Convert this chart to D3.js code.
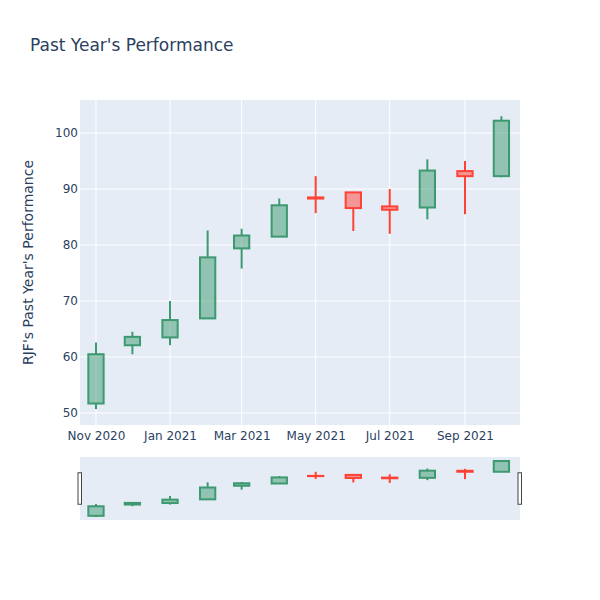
<!DOCTYPE html>
<html>
<head>
<meta charset="utf-8">
<script src="https://cdn.jsdelivr.net/npm/d3@7"></script>
<style>
  html, body { margin: 0; padding: 0; background: #fff; }
  svg { display: block; font-family: "DejaVu Sans", Verdana, Arial, sans-serif; }
</style>
</head>
<body>
<svg id="chart" width="600" height="600"></svg>
<script>
// ---- Data ----
const dates = ["2020-11-01","2020-12-01","2021-01-01","2021-02-01","2021-03-01","2021-04-01",
               "2021-05-01","2021-06-01","2021-07-01","2021-08-01","2021-09-01","2021-10-01"];
const openVals  = [51.7, 62.1, 63.5, 66.9, 79.4, 81.5, 88.5, 89.4, 86.9, 86.7, 93.2, 92.3];
const highVals  = [62.6, 64.5, 70.0, 82.6, 82.9, 88.3, 92.3, 89.5, 90.0, 95.3, 95.0, 103.0];
const lowVals   = [50.7, 60.5, 62.1, 66.9, 75.8, 81.5, 85.7, 82.5, 82.0, 84.6, 85.5, 92.1];
const closeVals = [60.5, 63.6, 66.6, 77.8, 81.7, 87.1, 88.3, 86.6, 86.3, 93.3, 92.3, 102.2];
const yTicks = [50, 60, 70, 80, 90, 100];
const xTickDates = ["2020-11-01","2021-01-01","2021-03-01","2021-05-01","2021-07-01","2021-09-01"];
const xTickLabels = ["Nov 2020","Jan 2021","Mar 2021","May 2021","Jul 2021","Sep 2021"];
const titleText = "Past Year's Performance";
const yTitleText = "RJF's Past Year's Performance";

const parse = d3.utcParse("%Y-%m-%d");
const data = dates.map((d, i) => ({
  date: parse(d), open: openVals[i], high: highVals[i], low: lowVals[i], close: closeVals[i]
}));

// ---- Layout ----
const svg = d3.select("#chart");
const pLeft = 80, pRight = 520, pTop = 100, pBottom = 425;
const sTop = 457, sBottom = 520;
const textColor = "#2a3f5f";
const bg = "#E5ECF6";
const incLine = "#3D9970", incFill = "rgba(61,153,112,0.5)";
const decLine = "#FF4136", decFill = "rgba(255,65,54,0.5)";

const x = d3.scaleUtc()
  .domain([new Date(Date.UTC(2020, 9, 18, 20)), new Date(Date.UTC(2021, 9, 16, 8))])
  .range([pLeft, pRight]);
const yDomain = [47.86, 105.9];
const y = d3.scaleLinear().domain(yDomain).range([pBottom, pTop]);
const ys = d3.scaleLinear().domain(yDomain).range([sBottom, sTop]);

const dayMs = 86400000;
const halfBox = 6.3 * dayMs;

// Background
svg.append("rect").attr("x", pLeft).attr("y", pTop)
  .attr("width", pRight - pLeft).attr("height", pBottom - pTop).attr("fill", bg);

// Grid
const grid = svg.append("g");
yTicks.forEach(t => {
  grid.append("line").attr("x1", pLeft).attr("x2", pRight)
    .attr("y1", y(t)).attr("y2", y(t)).attr("stroke", "#fff").attr("stroke-width", 1);
});
xTickDates.forEach(t => {
  const xx = x(parse(t));
  grid.append("line").attr("x1", xx).attr("x2", xx)
    .attr("y1", pTop).attr("y2", pBottom).attr("stroke", "#fff").attr("stroke-width", 1);
});

// Axes
const yAxis = d3.axisLeft(y).tickValues(yTicks).tickSize(0).tickPadding(2);
const yg = svg.append("g").attr("transform", `translate(${pLeft},0)`).call(yAxis);
yg.select(".domain").remove();
yg.selectAll("text").attr("fill", textColor).style("font-size", "12px")
  .style("font-family", "'DejaVu Sans', Verdana, Arial, sans-serif");

const xAxis = d3.axisBottom(x).tickValues(xTickDates.map(parse))
  .tickFormat((d, i) => xTickLabels[i]).tickSize(0).tickPadding(6);
const xg = svg.append("g").attr("transform", `translate(0,${pBottom})`).call(xAxis);
xg.select(".domain").remove();
xg.selectAll("text").attr("fill", textColor).style("font-size", "12px")
  .style("font-family", "'DejaVu Sans', Verdana, Arial, sans-serif");

// Candles
function drawCandles(g, yScale, lw) {
  data.forEach(d => {
    const inc = d.close >= d.open;
    const lc = inc ? incLine : decLine;
    const fc = inc ? incFill : decFill;
    const cx = x(d.date);
    const x0 = x(new Date(+d.date - halfBox)), x1 = x(new Date(+d.date + halfBox));
    const yo = yScale(d.open), yc = yScale(d.close);
    const yt = Math.min(yo, yc), yb = Math.max(yo, yc);
    g.append("line").attr("x1", cx).attr("x2", cx)
      .attr("y1", yScale(d.high)).attr("y2", yt).attr("stroke", lc).attr("stroke-width", lw);
    g.append("line").attr("x1", cx).attr("x2", cx)
      .attr("y1", yb).attr("y2", yScale(d.low)).attr("stroke", lc).attr("stroke-width", lw);
    g.append("rect").attr("x", x0).attr("y", yt)
      .attr("width", x1 - x0).attr("height", Math.max(yb - yt, 0.01))
      .attr("fill", fc).attr("stroke", lc).attr("stroke-width", lw);
  });
}
drawCandles(svg.append("g"), y, 2);

// Range slider
svg.append("rect").attr("x", pLeft).attr("y", sTop)
  .attr("width", pRight - pLeft).attr("height", sBottom - sTop).attr("fill", bg);
drawCandles(svg.append("g"), ys, 2);
const hTop = sTop + (sBottom - sTop) / 4, hH = (sBottom - sTop) / 2;
[pLeft, pRight].forEach(hx => {
  svg.append("rect").attr("x", hx - 2).attr("y", hTop).attr("width", 3.5).attr("height", hH)
    .attr("fill", "#fff").attr("stroke", "#444").attr("stroke-width", 1);
});

// Titles
svg.append("text").attr("x", 30).attr("y", 51).text(titleText)
  .attr("fill", textColor).style("font-size", "17px");
svg.append("text").attr("transform", `translate(33,${(pTop + pBottom) / 2}) rotate(-90)`)
  .attr("text-anchor", "middle").text(yTitleText)
  .attr("fill", textColor).style("font-size", "14px");
</script>
</body>
</html>
